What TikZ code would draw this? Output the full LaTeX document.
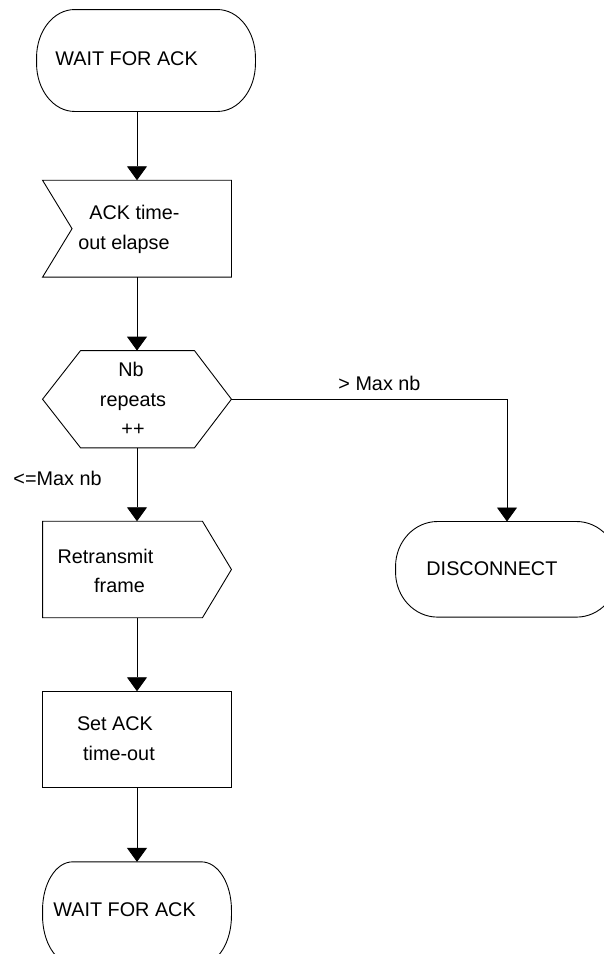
\documentclass[tikz,border=0pt]{standalone}
\usepackage{fontspec}
\setmainfont{Liberation Sans}
\usetikzlibrary{arrows.meta}

\begin{document}
\begin{tikzpicture}[x=1pt, y=-1pt, line width=0.9pt,
  box/.style={rectangle, draw=none, inner sep=0pt},
  txt/.style={inner sep=0pt, align=center, font=\fontsize{19.8}{29.6}\selectfont},
  flow/.style={-{Triangle[width=20pt,length=14pt]}}]
\useasboundingbox (0,0) rectangle (604,954);
\clip (0,0) rectangle (604,954);

% shapes
\node[box, minimum width=218pt, minimum height=101pt] (wait1) at (146,60.5) {};
\node[box, minimum width=188pt, minimum height=96pt] (elapse) at (137,228.7) {};
\node[box, minimum width=188pt, minimum height=96.3pt] (repeats) at (137,399.2) {};
\node[box, minimum width=188pt, minimum height=95.6pt] (retx) at (137,569.5) {};
\node[box, minimum width=188pt, minimum height=95.6pt] (setack) at (137,739.5) {};
\node[box, minimum width=188pt, minimum height=101pt] (wait2) at (137,912.8) {};
\node[box, minimum width=222pt, minimum height=94.7pt] (disc) at (507,569.3) {};

\draw ([xshift=38pt]wait1.north west) -- ([xshift=-38pt]wait1.north east)
  arc[start angle=90, end angle=0, x radius=38pt, y radius=48pt] -- ([yshift=48pt]wait1.south east)
  arc[start angle=0, end angle=-90, x radius=38pt, y radius=48pt] -- ([xshift=38pt]wait1.south west)
  arc[start angle=270, end angle=180, x radius=38pt, y radius=48pt] -- ([yshift=-48pt]wait1.north west)
  arc[start angle=180, end angle=90, x radius=38pt, y radius=48pt] -- cycle;
\draw (elapse.north west) -- (elapse.north east) -- (elapse.south east) -- (elapse.south west)
  -- ([xshift=29.5pt]elapse.west) -- cycle;
\draw (repeats.west) -- ([xshift=38pt]repeats.north west) -- ([xshift=-37pt]repeats.north east)
  -- (repeats.east) -- ([xshift=-37pt]repeats.south east) -- ([xshift=38pt]repeats.south west) -- cycle;
\draw (retx.north west) -- ([xshift=-29pt]retx.north east) -- (retx.east)
  -- ([xshift=-29pt]retx.south east) -- (retx.south west) -- cycle;
\draw (setack.north west) rectangle (setack.south east);
\draw ([xshift=30pt]wait2.north west) -- ([xshift=-30pt]wait2.north east)
  arc[start angle=90, end angle=0, x radius=30pt, y radius=48pt] -- ([yshift=48pt]wait2.south east)
  arc[start angle=0, end angle=-90, x radius=30pt, y radius=48pt] -- ([xshift=30pt]wait2.south west)
  arc[start angle=270, end angle=180, x radius=30pt, y radius=48pt] -- ([yshift=-48pt]wait2.north west)
  arc[start angle=180, end angle=90, x radius=30pt, y radius=48pt] -- cycle;
\draw ([xshift=42pt]disc.north west) -- ([xshift=-42pt]disc.north east)
  arc[start angle=90, end angle=0, x radius=42pt, y radius=45pt] -- ([yshift=45pt]disc.south east)
  arc[start angle=0, end angle=-90, x radius=42pt, y radius=45pt] -- ([xshift=42pt]disc.south west)
  arc[start angle=270, end angle=180, x radius=42pt, y radius=45pt] -- ([yshift=-45pt]disc.north west)
  arc[start angle=180, end angle=90, x radius=42pt, y radius=45pt] -- cycle;

% texts
\node[txt, anchor=base west] (twait1) at (55,65) {WAIT FOR ACK};
\node[txt, anchor=north] (telapse) at (134.5,205) {ACK time-\\out elapse\hspace*{21pt}};
\node[txt, anchor=north] (trepeats) at (133,361.7) {Nb\hspace*{4pt}\\repeats\hspace*{16pt}\\++};
\node[txt, anchor=north] (tretx) at (119.5,548.3) {Retransmit\hspace*{28pt}\\frame};
\node[txt, anchor=north] (tsetack) at (119,716.7) {Set ACK\hspace*{8pt}\\time-out};
\node[txt, anchor=base west] (twait2) at (53,916) {WAIT FOR ACK};
\node[txt, anchor=base west] (tdisc) at (426,575) {DISCONNECT};
\node[txt, anchor=base west] (tover) at (338,390) {> Max nb};
\node[txt, anchor=base east] (tunder) at (102,485) {<=Max nb};

% connectors
\draw[flow] (wait1.south -| elapse.north) -- (elapse.north);
\draw[flow] (elapse.south) -- (repeats.north);
\draw[flow] (repeats.south) -- (retx.north);
\draw[flow] (repeats.east) -| (disc.north);
\draw[flow] (retx.south) -- (setack.north);
\draw[flow] (setack.south) -- (wait2.north);
\end{tikzpicture}
\end{document}
